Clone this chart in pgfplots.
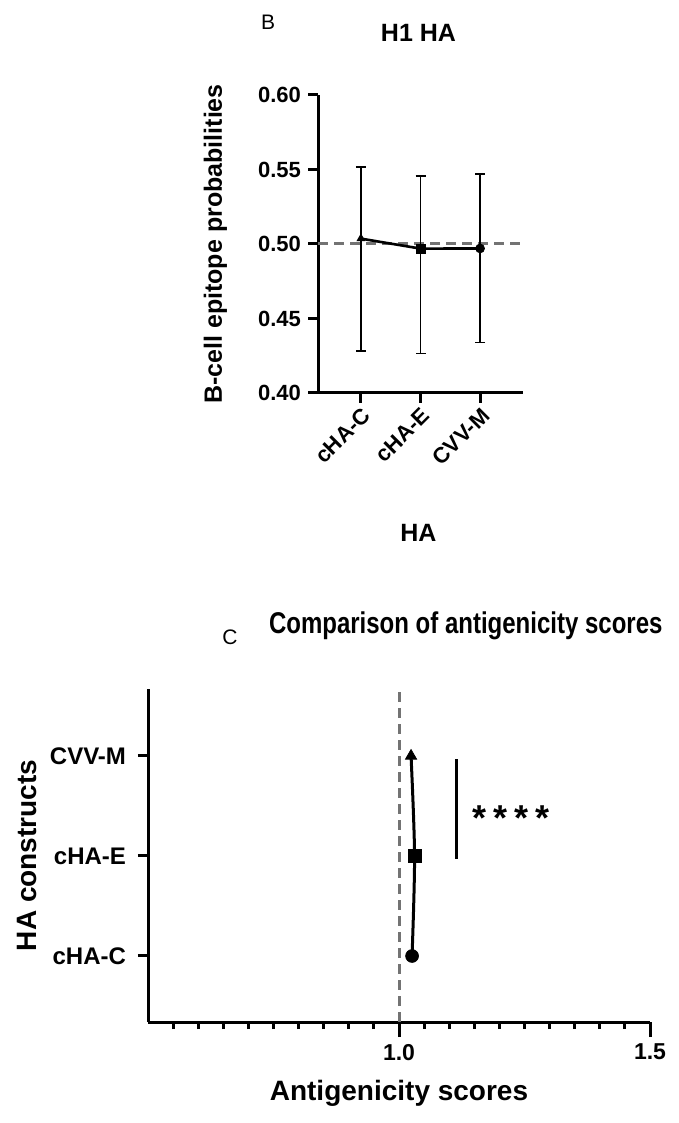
\documentclass[border=0pt]{standalone}
\usepackage{fontspec}
\setmainfont{Liberation Sans}
\usepackage{pgfplots}
\usepackage{pgfplotstable}
\pgfplotsset{compat=1.18}

\definecolor{refgray}{HTML}{737373}

% B: epitope probabilities, mean with error bar ends
\pgfplotstableread{
x y ep em cls
1 0.5036 0.0480 0.0753 a
2 0.4969 0.0486 0.0704 b
3 0.4970 0.0499 0.0631 c
}\epitope

% C: antigenicity scores per construct
\pgfplotstableread{
y score cls
1 1.026 c
2 1.031 b
3 1.024 a
}\antigen

\pgfplotsset{
  prism/.style={
    scale only axis,
    clip=false,
    axis x line=bottom,
    axis y line=left,
    axis line style={-, line width=1.5pt},
    every tick/.style={black, line width=1.5pt},
    tick align=outside,
    /pgf/number format/assume math mode=true,
    tick label style={font=\fontsize{11}{13}\selectfont\bfseries},
    label style={font=\fontsize{12.5}{14}\selectfont\bfseries},
    title style={font=\fontsize{12.5}{14}\selectfont\bfseries},
  },
  markclasses/.style={
    scatter, only marks,
    scatter src=explicit symbolic,
    scatter/classes={
      a={mark=triangle*, black, mark size=#1},
      b={mark=square*, black, mark size=#1},
      c={mark=*, black, mark size=#1}},
  },
}

\begin{document}
\begin{tikzpicture}
\useasboundingbox (0,0) rectangle (339.5pt,561.5pt);

\node[font=\fontsize{10.5}{12}\selectfont] at (134pt,550.5pt) {B};

\begin{axis}[prism,
  at={(159pt,365pt)}, anchor=south west,
  width=102.5pt, height=149pt,
  xmin=0.28, xmax=3.72, ymin=0.4, ymax=0.6,
  xtick={1,2,3}, xticklabels={cHA-C,cHA-E,CVV-M},
  x tick label style={rotate=45, anchor=north east, inner sep=1pt},
  ytick={0.40,0.45,0.50,0.55,0.60},
  y tick label style={/pgf/number format/.cd, fixed, fixed zerofill, precision=2, /tikz/.cd},
  major tick length=5pt,
  title={H1 HA},
  title style={at={(axis description cs:0.49,1.168)}, anchor=center},
  ylabel={B-cell epitope probabilities},
  ylabel style={at={(axis description cs:-0.50,0.5)}, anchor=center},
  xlabel={HA},
  xlabel style={at={(axis description cs:0.49,-0.47)}, anchor=center},
]
\addplot[refgray, line width=1.5pt, dash pattern=on 5pt off 3pt]
  coordinates {(0.28,0.5) (3.72,0.5)};
\addplot[black, line width=1.3pt, mark=none,
  error bars/.cd, y dir=both, y explicit,
  error bar style={line width=0.7pt},
  error mark options={rotate=90, mark size=2.5pt, line width=0.7pt}]
  table[x=x, y=y, y error plus=ep, y error minus=em]{\epitope};
\addplot[markclasses=2.2pt] table[x=x, y=y, meta=cls]{\epitope};
\end{axis}

\node[font=\fontsize{10.5}{12}\selectfont, anchor=base] at (115pt,239pt) {C};

\begin{axis}[prism,
  at={(74pt,50.5pt)}, anchor=south west,
  width=251pt, height=166.5pt,
  xmin=0.5, xmax=1.5, ymin=0.34, ymax=3.67,
  xtick={1.0,1.5},
  minor xtick={0.55,0.6,0.65,0.7,0.75,0.8,0.85,0.9,0.95,1.05,1.1,1.15,1.2,1.25,1.3,1.35,1.4,1.45},
  x tick label style={font=\fontsize{11.5}{13}\selectfont\bfseries,
    /pgf/number format/.cd, fixed, fixed zerofill, precision=1, /tikz/.cd},
  ytick={1,2,3}, yticklabels={cHA-C,cHA-E,CVV-M},
  y tick label style={font=\fontsize{12}{14}\selectfont\bfseries},
  major tick length=7.5pt, minor tick length=3.5pt,
  y tick style={/pgfplots/major tick length=5pt},
  title={Comparison of antigenicity scores},
  title style={at={(axis description cs:0.633,1.131)}, anchor=base,
    font=\fontsize{15}{17}\selectfont\bfseries, xscale=0.8},
  xlabel={Antigenicity scores},
  xlabel style={at={(axis description cs:0.5,-0.213)}, anchor=center, font=\fontsize{14}{16}\selectfont\bfseries},
  ylabel={HA constructs},
  ylabel style={at={(axis description cs:-0.241,0.5)}, anchor=center, font=\fontsize{14}{16}\selectfont\bfseries},
]
\addplot[refgray, line width=1.5pt, dash pattern=on 5pt off 3pt]
  coordinates {(1,0.34) (1,3.67)};
\addplot[black, line width=1.5pt, smooth, mark=none] table[x=score, y=y]{\antigen};
\addplot[markclasses=3.2pt] table[x=score, y=y, meta=cls]{\antigen};
\addplot[black, line width=1.5pt] coordinates {(1.1155,1.97) (1.1155,2.97)};
\node[anchor=west, font=\fontsize{18}{20}\selectfont\bfseries]
  at (axis cs:1.132,2.38) {*\hspace{3.5pt}*\hspace{3.5pt}*\hspace{3.5pt}*};
\end{axis}
\end{tikzpicture}
\end{document}
